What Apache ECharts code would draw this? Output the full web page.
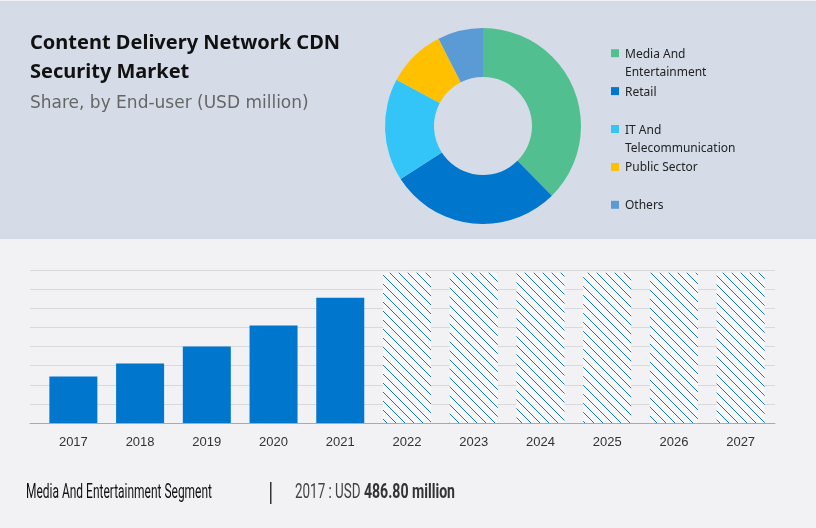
<!DOCTYPE html>
<html>
<head>
<meta charset="utf-8">
<script src="https://cdn.jsdelivr.net/npm/echarts@6/dist/echarts.min.js"></script>
<style>html,body{margin:0;padding:0;background:#f2f1f4;}#c{width:816px;height:528px;}</style>
</head>
<body>
<div id="c"></div>
<script>
// ---- data ----
var years = ['2017','2018','2019','2020','2021','2022','2023','2024','2025','2026','2027'];
var actualValues = [486.8, 622, 800, 1019, 1311, null, null, null, null, null, null];
var forecastValues = [null, null, null, null, null, 1572, 1572, 1572, 1572, 1572, 1572];
var segmentNames = ['Media And Entertainment', 'Retail', 'IT And Telecommunication', 'Public Sector', 'Others'];
var segmentShares = [37.6, 28.3, 16.9, 9.7, 7.5];
var legendLabels = ['Media And\nEntertainment', 'Retail\n ', 'IT And\nTelecommunication', 'Public Sector\n ', 'Others\n '];
var segmentColors = ['#52bf90', '#0077cc', '#33c5f7', '#ffc000', '#5b9bd5'];
var yMax = 1600, yInterval = 200;

// hatch pattern for forecast bars
var pc = document.createElement('canvas');
pc.width = 9; pc.height = 9;
var g = pc.getContext('2d');
g.fillStyle = '#f7f8fb'; g.fillRect(0, 0, 9, 9);
g.strokeStyle = '#1477bd'; g.lineWidth = 1;
g.beginPath(); g.moveTo(-1, -1); g.lineTo(10, 10); g.stroke();

// footer texts (condensed look via horizontal scale)
var footLeft = segmentNames[0] + ' Segment';
var footRegular = years[0] + ' : USD ';
var footBold = actualValues[0].toFixed(2) + ' million';
var mc = document.createElement('canvas').getContext('2d');
mc.font = '20px Roboto';
var wLeft = mc.measureText(footLeft).width;
var wReg = mc.measureText(footRegular).width;
mc.font = 'bold 21px Roboto';
var wBold = mc.measureText(footBold).width;
var sLeft = 186 / wLeft;
var sRight = 160 / (wReg + wBold);

var chart = echarts.init(document.getElementById('c'), null, {renderer: 'canvas'});
var legendIcon = 'path://M0,0 M8,37 M0,4L8,4L8,12L0,12Z';

chart.setOption({
  backgroundColor: '#f2f1f4',
  animation: false,
  graphic: [
    {type: 'rect', z: -10, shape: {x: 0, y: 1, width: 816, height: 238}, style: {fill: '#d5dce8'}},
    {type: 'text', x: 26, y: 493, scaleX: sLeft, style: {text: footLeft, font: '20px Roboto', fill: '#111', verticalAlign: 'middle'}},
    {type: 'rect', shape: {x: 270, y: 482, width: 1.5, height: 22}, style: {fill: '#333'}},
    {type: 'text', x: 295, y: 493, scaleX: sRight, style: {
      text: footRegular + '{b|' + footBold + '}', font: '20px Roboto', fill: '#444', verticalAlign: 'middle',
      rich: {b: {font: 'bold 21px Roboto', fill: '#333'}}}}
  ],
  title: [
    {text: 'Content Delivery Network CDN\nSecurity Market', left: 30, top: 29, padding: 0,
     textStyle: {fontFamily: 'Noto Sans', fontWeight: 'bold', fontSize: 20, lineHeight: 29, color: '#111'}},
    {text: 'Share, by End-user (USD million)', left: 30, top: 94, padding: 0,
     textStyle: {fontFamily: 'DejaVu Sans', fontWeight: 'normal', fontSize: 17, lineHeight: 20, color: '#666'}}
  ],
  legend: {
    orient: 'vertical', left: 606, top: 40, itemWidth: 8, itemHeight: 37, itemGap: 0.5,
    selectedMode: false,
    data: segmentNames.map(function (n) { return {name: n, icon: legendIcon}; }),
    formatter: function (name) { return legendLabels[segmentNames.indexOf(name)]; },
    textStyle: {fontFamily: 'Noto Sans', fontSize: 12, lineHeight: 18.7, color: '#222', padding: [0, 0, 0, 1]}
  },
  grid: [
    {left: 40, right: 42, top: 270, bottom: 105},
    {left: 30, right: 41, top: 270, bottom: 105}
  ],
  xAxis: [
    {type: 'category', gridIndex: 0, data: years, axisLine: {show: false}, axisTick: {show: false},
     axisLabel: {margin: 13, fontFamily: 'Liberation Sans', fontSize: 13, color: '#333'}},
    {type: 'value', gridIndex: 1, min: 0, max: 1, axisLine: {show: true, lineStyle: {color: '#aaaaaa', width: 1}},
     axisTick: {show: false}, axisLabel: {show: false}, splitLine: {show: false}}
  ],
  yAxis: [
    {type: 'value', gridIndex: 0, min: 0, max: yMax, interval: yInterval, show: false, splitLine: {show: false}},
    {type: 'value', gridIndex: 1, min: 0, max: yMax, interval: yInterval, axisLine: {show: false}, axisTick: {show: false},
     axisLabel: {show: false}, splitLine: {show: true, lineStyle: {color: '#d9d9dc', width: 1}}}
  ],
  series: [
    {type: 'bar', name: 'Actual', xAxisIndex: 0, yAxisIndex: 0, data: actualValues, barWidth: 48, barGap: '-100%',
     itemStyle: {color: '#0077cc'}, emphasis: {disabled: true}},
    {type: 'bar', name: 'Forecast', xAxisIndex: 0, yAxisIndex: 0, data: forecastValues, barWidth: 48, barGap: '-100%',
     itemStyle: {color: {image: pc, repeat: 'repeat'}}, emphasis: {disabled: true}},
    {type: 'pie', center: [483, 126], radius: [49, 98], startAngle: 90, clockwise: true,
     label: {show: false}, labelLine: {show: false}, emphasis: {disabled: true},
     data: segmentNames.map(function (n, i) { return {name: n, value: segmentShares[i], itemStyle: {color: segmentColors[i]}}; })}
  ]
});
</script>
</body>
</html>
